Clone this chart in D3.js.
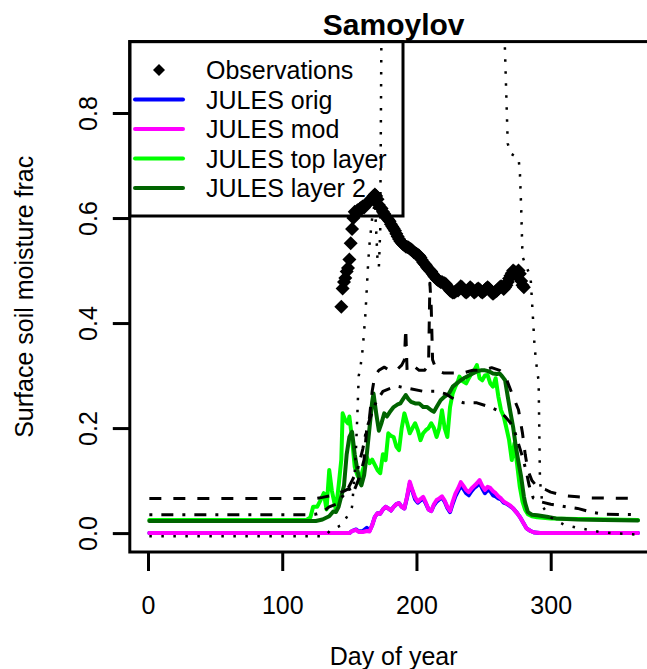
<!DOCTYPE html>
<html>
<head>
<meta charset="utf-8">
<script src="https://cdn.jsdelivr.net/npm/d3@7/dist/d3.min.js"></script>
<style>
  html, body { margin: 0; padding: 0; background: #fff; }
  svg { display: block; font-family: "Liberation Sans", Arial, Helvetica, sans-serif; }
</style>
</head>
<body>
<svg id="chart" width="647" height="669"></svg>
<script>
// ---- Data: day of year vs surface soil moisture fraction ----
const xTicks = [0, 100, 200, 300];
const yTicks = [0.0, 0.2, 0.4, 0.6, 0.8];
const yTickLabels = ["0.0", "0.2", "0.4", "0.6", "0.8"];

// Daily observations, first day 144
const obsFirstDay = 144;
const obsValues = [
  0.431, 0.466, 0.478, 0.486, 0.498, 0.505, 0.521, 0.552, 0.579, 0.600,
  0.612, 0.610, 0.615, 0.612, 0.618, 0.620, 0.622, 0.620, 0.625, 0.628,
  0.630, 0.632, 0.634, 0.638, 0.642, 0.645, 0.642, 0.636, 0.625, 0.620,
  0.618, 0.612, 0.608, 0.604, 0.600, 0.597, 0.594, 0.588, 0.584, 0.580,
  0.576, 0.570, 0.565, 0.560, 0.556, 0.553, 0.550, 0.548, 0.546, 0.545,
  0.544, 0.542, 0.540, 0.538, 0.535, 0.533, 0.532, 0.530, 0.528, 0.525,
  0.520, 0.516, 0.513, 0.510, 0.506, 0.503, 0.500, 0.498, 0.494, 0.490,
  0.487, 0.484, 0.482, 0.480, 0.478, 0.478, 0.476, 0.476, 0.474, 0.470,
  0.466, 0.462, 0.460, 0.458, 0.458, 0.460, 0.462, 0.462, 0.466, 0.470,
  0.468, 0.464, 0.460, 0.458, 0.460, 0.464, 0.468, 0.466, 0.462, 0.458,
  0.460, 0.464, 0.466, 0.464, 0.460, 0.458, 0.460, 0.463, 0.466, 0.468,
  0.466, 0.462, 0.458, 0.456, 0.458, 0.460, 0.462, 0.465, 0.468, 0.470,
  0.468, 0.465, 0.468, 0.472, 0.478, 0.485, 0.490, 0.495, 0.500, 0.498,
  0.492, 0.496, 0.500, 0.494, 0.480, 0.472, 0.468
];

// Model runs: [day, value]
const julesOrig = [
  [1,0.0],[150,0.0],[152,0.004],[155,0.007],[157,0.003],[160,0.004],[163,0.010],[165,0.004],
  [167,0.015],[169,0.031],[171,0.038],[173,0.037],[175,0.045],[177,0.050],[179,0.047],[181,0.043],
  [183,0.050],[185,0.055],[187,0.057],[189,0.050],[191,0.047],[193,0.068],[195,0.094],[197,0.080],
  [199,0.064],[201,0.058],[203,0.062],[205,0.066],[207,0.056],[209,0.045],[211,0.042],[213,0.053],
  [215,0.060],[217,0.064],[219,0.068],[221,0.060],[223,0.048],[225,0.040],[227,0.056],[229,0.070],
  [231,0.080],[233,0.090],[235,0.084],[237,0.076],[239,0.072],[241,0.080],[243,0.086],[245,0.090],
  [247,0.095],[249,0.085],[251,0.076],[253,0.082],[255,0.080],[257,0.072],[259,0.070],[261,0.066],
  [263,0.064],[265,0.058],[267,0.056],[270,0.051],[272,0.047],[275,0.038],[277,0.031],[280,0.018],
  [282,0.009],[285,0.004],[288,0.001],[292,0.0],[365,0.0]
];
const julesMod = [
  [1,0.0],[150,0.0],[152,0.004],[155,0.006],[157,0.002],[160,0.002],[163,0.004],[165,0.003],
  [167,0.015],[169,0.031],[171,0.038],[173,0.037],[175,0.045],[177,0.050],[179,0.047],[181,0.043],
  [183,0.050],[185,0.055],[187,0.057],[189,0.050],[191,0.047],[193,0.070],[195,0.098],[197,0.082],
  [199,0.068],[201,0.060],[203,0.065],[205,0.069],[207,0.058],[209,0.045],[211,0.042],[213,0.055],
  [215,0.063],[217,0.066],[219,0.070],[221,0.062],[223,0.050],[225,0.042],[227,0.060],[229,0.075],
  [231,0.085],[233,0.097],[235,0.090],[237,0.082],[239,0.078],[241,0.085],[243,0.090],[245,0.095],
  [247,0.101],[249,0.090],[251,0.082],[253,0.088],[255,0.086],[257,0.080],[259,0.076],[261,0.070],
  [263,0.066],[265,0.060],[267,0.057],[270,0.052],[272,0.047],[275,0.038],[277,0.031],[280,0.018],
  [282,0.009],[285,0.004],[288,0.001],[292,0.0],[365,0.0]
];
const julesTop = [
  [1,0.025],[118,0.025],[121,0.030],[123,0.050],[126,0.050],[128,0.060],[131,0.076],[133,0.045],
  [135,0.120],[137,0.080],[140,0.044],[142,0.090],[144,0.140],[145,0.228],[147,0.215],[149,0.209],
  [150,0.222],[152,0.180],[154,0.126],[156,0.110],[158,0.101],[160,0.120],[163,0.145],[165,0.133],
  [167,0.140],[169,0.130],[171,0.120],[173,0.114],[175,0.150],[177,0.139],[179,0.190],[181,0.185],
  [183,0.183],[185,0.165],[187,0.158],[189,0.200],[191,0.228],[193,0.210],[195,0.190],[197,0.200],
  [199,0.209],[201,0.196],[203,0.177],[205,0.190],[207,0.196],[209,0.200],[211,0.209],[213,0.200],
  [215,0.183],[217,0.200],[219,0.234],[221,0.200],[223,0.183],[225,0.240],[227,0.266],[229,0.279],
  [231,0.290],[232,0.298],[234,0.290],[237,0.285],[239,0.295],[241,0.304],[243,0.310],[245,0.320],
  [247,0.295],[249,0.291],[251,0.300],[253,0.301],[255,0.285],[257,0.279],[259,0.295],[261,0.260],
  [263,0.234],[265,0.222],[267,0.200],[269,0.177],[271,0.139],[273,0.171],[275,0.130],[277,0.088],
  [279,0.060],[281,0.044],[283,0.036],[286,0.032],[290,0.030],[300,0.028],[320,0.027],[365,0.025]
];
const julesLayer2 = [
  [1,0.023],[125,0.023],[130,0.026],[135,0.032],[138,0.041],[140,0.040],[142,0.050],[144,0.070],
  [146,0.090],[148,0.150],[150,0.183],[152,0.193],[154,0.150],[156,0.120],[158,0.095],[159,0.091],
  [161,0.110],[163,0.150],[165,0.200],[167,0.250],[168,0.266],[170,0.228],[172,0.195],[174,0.210],
  [176,0.228],[178,0.222],[180,0.230],[183,0.240],[186,0.245],[188,0.247],[190,0.255],[192,0.263],
  [194,0.255],[196,0.250],[199,0.247],[202,0.247],[205,0.240],[208,0.240],[211,0.234],[213,0.231],
  [215,0.240],[218,0.253],[221,0.260],[224,0.265],[227,0.279],[230,0.285],[233,0.291],[236,0.296],
  [239,0.300],[242,0.304],[245,0.308],[248,0.310],[251,0.310],[254,0.308],[257,0.304],[260,0.303],
  [262,0.304],[264,0.298],[266,0.291],[268,0.260],[270,0.230],[272,0.202],[274,0.165],[276,0.135],
  [278,0.107],[280,0.070],[281,0.057],[283,0.040],[286,0.035],[290,0.034],[297,0.031],[304,0.028],
  [320,0.026],[340,0.025],[365,0.024]
];

// Reference envelopes (black): upper dashed, lower dash-dot, dotted range
const upperDashed = [
  [1,0.066],[125,0.066],[130,0.068],[138,0.072],[146,0.080],[150,0.085],[152,0.072],[155,0.090],
  [158,0.110],[161,0.140],[163,0.200],[165,0.220],[167,0.270],[169,0.300],[172,0.310],[176,0.316],
  [180,0.310],[185,0.310],[189,0.320],[191,0.330],[192,0.390],[193,0.310],[197,0.320],[202,0.310],
  [206,0.310],[209,0.320],[210,0.476],[211,0.430],[212,0.330],[215,0.310],[220,0.305],[228,0.305],
  [235,0.305],[242,0.310],[250,0.310],[256,0.315],[262,0.310],[266,0.300],[269,0.280],[272,0.260],
  [276,0.235],[279,0.190],[281,0.150],[283,0.120],[286,0.100],[290,0.088],[296,0.083],[300,0.078],
  [306,0.074],[312,0.071],[320,0.069],[330,0.067],[365,0.066]
];
const lowerDashDot = [
  [1,0.035],[118,0.035],[125,0.036],[130,0.040],[135,0.050],[140,0.055],[145,0.070],[148,0.080],
  [152,0.100],[156,0.120],[160,0.160],[163,0.200],[167,0.230],[170,0.250],[175,0.270],[185,0.280],
  [195,0.275],[205,0.270],[215,0.270],[222,0.265],[228,0.255],[235,0.248],[245,0.248],[255,0.240],
  [262,0.232],[266,0.222],[270,0.210],[273,0.195],[276,0.170],[279,0.145],[282,0.115],[284,0.090],
  [287,0.067],[292,0.060],[300,0.055],[312,0.050],[320,0.047],[330,0.040],[340,0.036],[365,0.035]
];
const dottedRange = [
  [1,-0.006],[132,-0.006],[136,0.006],[144,0.015],[150,0.038],[152,0.050],[153,0.082],[154,0.114],
  [155,0.164],[156,0.228],[157,0.300],[158,0.310],[160,0.352],[162,0.418],[163,0.466],[164,0.514],
  [165,0.550],[167,0.600],[169,0.630],[171,0.520],[172,0.507],[173,0.577],[174,1.000],[265,1.000],
  [268,0.742],[270,0.723],[276,0.714],[277,0.690],[278,0.620],[279,0.526],[285,0.488],[286,0.444],
  [287,0.400],[288,0.355],[289,0.330],[290,0.307],[291,0.290],[292,0.100],[294,0.050],[300,0.030],
  [310,0.016],[320,0.010],[335,0.003],[345,0.000],[365,-0.003]
];

const legendLabels = ["Observations", "JULES orig", "JULES mod", "JULES top layer", "JULES layer 2"];
const legendColors = ["#000000", "#0000ff", "#ff00ff", "#00ff00", "#006400"];

// ---- Layout ----
const svg = d3.select("#chart");
const xDomain = [1 - 0.04 * 364, 365 + 0.04 * 364];
const yDomain = [0 - 0.04 * 0.9, 0.9 + 0.04 * 0.9];
const plotLeft = 129.8, plotRight = 657.5, plotTop = 41.6, plotBottom = 552;

const x = d3.scaleLinear().domain(xDomain).range([plotLeft, plotRight]);
const y = d3.scaleLinear().domain(yDomain).range([plotBottom, plotTop]);

svg.append("defs").append("clipPath").attr("id", "plotClip")
  .append("rect")
  .attr("x", plotLeft).attr("y", plotTop)
  .attr("width", plotRight - plotLeft).attr("height", plotBottom - plotTop);

const plot = svg.append("g").attr("clip-path", "url(#plotClip)");
const line = d3.line().x(d => x(d[0])).y(d => y(d[1]));

// Model curves
const modelSeries = [
  { data: julesOrig, color: "#0000ff" },
  { data: julesMod, color: "#ff00ff" },
  { data: julesTop, color: "#00ff00" },
  { data: julesLayer2, color: "#006400" }
];
modelSeries.forEach(s => {
  plot.append("path")
    .attr("d", line(s.data))
    .attr("fill", "none")
    .attr("stroke", s.color)
    .attr("stroke-width", 4)
    .attr("stroke-linejoin", "round")
    .attr("stroke-linecap", "round");
});

// Black reference lines
const refSeries = [
  { data: upperDashed, dash: "12,12", width: 3 },
  { data: lowerDashDot, dash: "3,9,12,9", width: 3 },
  { data: dottedRange, dash: "2.5,9.5", width: 2.5 }
];
refSeries.forEach(s => {
  plot.append("path")
    .attr("d", line(s.data))
    .attr("fill", "none")
    .attr("stroke", "#000")
    .attr("stroke-width", s.width)
    .attr("stroke-dasharray", s.dash)
    .attr("stroke-linejoin", "round");
});

// Observations as filled diamonds
const diamond = r => `M0,${-r}L${r},0L0,${r}L${-r},0Z`;
plot.selectAll("path.obs")
  .data(obsValues)
  .join("path")
  .attr("class", "obs")
  .attr("d", diamond(7))
  .attr("transform", (v, i) => `translate(${x(obsFirstDay + i)},${y(v)})`)
  .attr("fill", "#000");

// ---- Frame and axes ----
svg.append("rect")
  .attr("x", plotLeft).attr("y", plotTop)
  .attr("width", plotRight - plotLeft).attr("height", plotBottom - plotTop)
  .attr("fill", "none").attr("stroke", "#000").attr("stroke-width", 3);

const xAxis = svg.append("g")
  .attr("transform", `translate(0,${plotBottom})`)
  .call(d3.axisBottom(x).tickValues(xTicks).tickSize(19).tickFormat(d3.format("d")));
xAxis.select(".domain").remove();
xAxis.selectAll(".tick line").attr("stroke-width", 3);
xAxis.selectAll(".tick text")
  .attr("y", 62).attr("dy", 0)
  .attr("font-size", 25).attr("font-family", "Liberation Sans, Arial, sans-serif")
  .attr("fill", "#000");

const yAxis = svg.append("g")
  .attr("transform", `translate(${plotLeft},0)`)
  .call(d3.axisLeft(y).tickValues(yTicks).tickSize(17).tickFormat((d, i) => yTickLabels[i]));
yAxis.select(".domain").remove();
yAxis.selectAll(".tick line").attr("stroke-width", 3);
yAxis.selectAll(".tick text")
  .attr("transform", "rotate(-90)")
  .attr("x", 0).attr("y", -33).attr("dy", 0)
  .attr("text-anchor", "middle")
  .attr("font-size", 25).attr("font-family", "Liberation Sans, Arial, sans-serif")
  .attr("fill", "#000");

// Titles
svg.append("text")
  .attr("x", (plotLeft + plotRight) / 2).attr("y", 35)
  .attr("text-anchor", "middle")
  .attr("font-size", 30).attr("font-weight", "bold")
  .text("Samoylov");

svg.append("text")
  .attr("x", (plotLeft + plotRight) / 2).attr("y", 665)
  .attr("text-anchor", "middle")
  .attr("font-size", 25)
  .text("Day of year");

svg.append("text")
  .attr("transform", `translate(33,${(plotTop + plotBottom) / 2}) rotate(-90)`)
  .attr("text-anchor", "middle")
  .attr("font-size", 25)
  .text("Surface soil moisture frac");

// ---- Legend ----
const legend = svg.append("g");
legend.append("rect")
  .attr("x", plotLeft).attr("y", plotTop)
  .attr("width", 403 - plotLeft).attr("height", 216 - plotTop)
  .attr("fill", "none").attr("stroke", "#000").attr("stroke-width", 3);

const rowY = i => 70 + i * 29.5;
legendLabels.forEach((label, i) => {
  if (i === 0) {
    legend.append("path")
      .attr("d", diamond(6))
      .attr("transform", `translate(159,${rowY(i)})`)
      .attr("fill", legendColors[i]);
  } else {
    legend.append("line")
      .attr("x1", 135).attr("x2", 183)
      .attr("y1", rowY(i)).attr("y2", rowY(i))
      .attr("stroke", legendColors[i]).attr("stroke-width", 4)
      .attr("stroke-linecap", "round");
  }
  legend.append("text")
    .attr("x", 206).attr("y", rowY(i) + 9)
    .attr("font-size", 25)
    .text(label);
});
</script>
</body>
</html>
